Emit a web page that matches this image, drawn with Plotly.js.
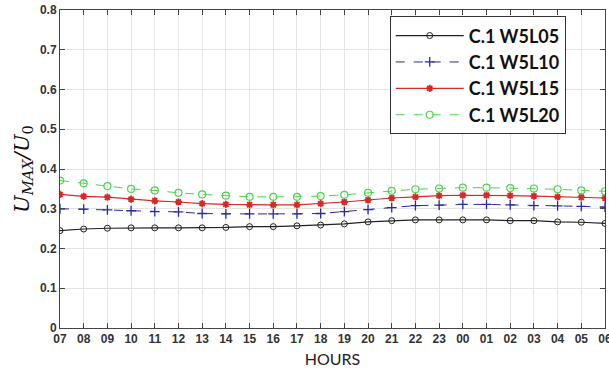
<!DOCTYPE html>
<html><head><meta charset="utf-8">
<script src="https://cdn.plot.ly/plotly-3.0.1.min.js"></script>
<style>html,body{margin:0;padding:0;background:#fff}#c{width:609px;height:374px}</style>
</head><body><div id="c"></div>
<script>
const hours = ['07','08','09','10','11','12','13','14','15','16','17','18','19','20','21','22','23','00','01','02','03','04','05','06'];
const seriesNames = ['C.1 W5L05','C.1 W5L10','C.1 W5L15','C.1 W5L20'];
const w5l05 = [0.245,0.249,0.251,0.252,0.252,0.252,0.252,0.253,0.255,0.255,0.257,0.259,0.262,0.267,0.270,0.272,0.272,0.272,0.272,0.270,0.270,0.267,0.266,0.263];
const w5l10 = [0.300,0.299,0.297,0.295,0.293,0.292,0.288,0.287,0.287,0.287,0.287,0.288,0.293,0.298,0.303,0.308,0.309,0.311,0.311,0.310,0.308,0.307,0.306,0.304];
const w5l15 = [0.336,0.331,0.329,0.324,0.320,0.317,0.313,0.311,0.310,0.310,0.310,0.313,0.317,0.322,0.327,0.330,0.333,0.334,0.334,0.333,0.332,0.330,0.329,0.327];
const w5l20 = [0.371,0.364,0.357,0.350,0.346,0.340,0.336,0.333,0.330,0.330,0.330,0.332,0.335,0.340,0.345,0.349,0.351,0.353,0.353,0.352,0.351,0.349,0.346,0.344];
const yTicks = [0,0.1,0.2,0.3,0.4,0.5,0.6,0.7,0.8];
const yTickText = ['0','0.1','0.2','0.3','0.4','0.5','0.6','0.7','0.8'];

const traces = [
  {x:hours, y:w5l05, name:seriesNames[0], mode:'lines+markers',
   line:{color:'#222222', width:1.2},
   marker:{symbol:'circle-open', size:6, color:'#222222', line:{width:1}}},
  {x:hours, y:w5l10, name:seriesNames[1], mode:'lines+markers',
   line:{color:'#2a2aa0', width:1, dash:'dash'},
   marker:{symbol:'cross-thin-open', size:7, color:'#2a2aa0', line:{width:1.3}}},
  {x:hours, y:w5l15, name:seriesNames[2], mode:'lines+markers',
   line:{color:'#d42a2a', width:1.2},
   marker:{symbol:'asterisk-open', size:6, color:'#d42a2a', line:{width:1.8}}},
  {x:hours, y:w5l20, name:seriesNames[3], mode:'lines+markers',
   line:{color:'#4cd44c', width:1, dash:'dash'},
   marker:{symbol:'circle-open', size:7, color:'#4cd44c', line:{width:1.2}}}
];

const tickFont = {family:'"Liberation Sans Narrow","Arial Narrow","Liberation Sans",sans-serif', size:12, color:'#333'};
const layout = {
  width:609, height:374,
  margin:{l:60, r:4, t:10, b:46},
  paper_bgcolor:'#fff', plot_bgcolor:'#fff',
  showlegend:true,
  legend:{x:0.605, y:0.98, xanchor:'left', yanchor:'top',
    bgcolor:'#fff', bordercolor:'#333', borderwidth:1,
    font:{family:'Lato, "Open Sans", sans-serif', size:18, color:'#111', weight:'bold'},
    tracegroupgap:0, itemwidth:68, entrywidth:200, entrywidthmode:'pixels'},
  xaxis:{type:'category', categoryorder:'array', categoryarray:hours,
    range:[0,23], showgrid:true, gridcolor:'#e4e4e4', gridwidth:1,
    showline:true, linecolor:'#444', linewidth:1, mirror:'ticks',
    ticks:'inside', ticklen:5, tickcolor:'#444',
    tickfont:{...tickFont, weight:'bold'},
    title:{text:'HOURS', font:{family:'Lato, "Open Sans", sans-serif', size:16, color:'#222'}, standoff:8},
    zeroline:false, fixedrange:true},
  yaxis:{range:[0,0.8], tickvals:yTicks, ticktext:yTickText,
    showgrid:true, gridcolor:'#e4e4e4', gridwidth:1,
    showline:true, linecolor:'#444', linewidth:1, mirror:'ticks',
    ticks:'inside', ticklen:5, tickcolor:'#444',
    tickfont:{...tickFont, weight:'bold'},
    title:{text:'<i>U</i><sub><i>MAX</i></sub><i>/U</i><sub>0</sub>', font:{family:'"DejaVu Serif","Liberation Serif",serif', size:21, color:'#111'}, standoff:4},
    zeroline:false, fixedrange:true}
};
Plotly.newPlot('c', traces, layout, {displayModeBar:false, staticPlot:true});
</script></body></html>
